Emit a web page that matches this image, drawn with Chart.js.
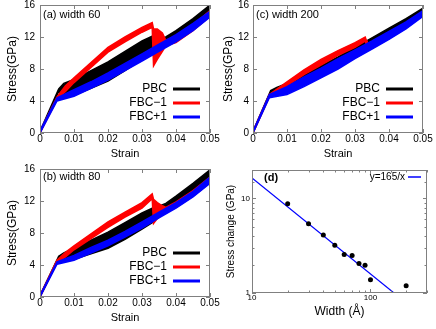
<!DOCTYPE html>
<html>
<head>
<meta charset="utf-8">
<script src="https://cdn.jsdelivr.net/npm/chart.js@4.4.0/dist/chart.umd.min.js"></script>
<style>
html, body { margin: 0; padding: 0; background: #fff; }
#wrap { position: relative; width: 436px; height: 329px; }
canvas { position: absolute; left: 0; top: 0; }
</style>
</head>
<body>
<div id="wrap">
  <canvas id="panelA" width="436" height="329"></canvas>
  <canvas id="panelB" width="436" height="329"></canvas>
  <canvas id="panelC" width="436" height="329"></canvas>
  <canvas id="panelD" width="436" height="329"></canvas>
</div>
<script>
// ---- data ----
var seriesNames = ["PBC", "FBC\u22121", "FBC+1"];
var strainStep = 0.01;
var stressStep = 4;

// (a) width 60
var aBlackX  = [0, 0.0055, 0.007, 0.01, 0.015, 0.02, 0.025, 0.03, 0.033, 0.034, 0.037, 0.04, 0.045, 0.05];
var aBlackHi = [0.2, 5.5, 6.2, 6.7, 7.8, 8.9, 10.2, 11.5, 12.1, 11.6, 12.0, 12.8, 14.3, 16.0];
var aBlackLo = [0, 5.2, 4.4, 4.7, 5.6, 6.5, 7.8, 9.2, 10.0, 10.6, 11.2, 12.0, 13.5, 15.2];
var aRedX    = [0, 0.005, 0.0075, 0.01, 0.015, 0.02, 0.025, 0.03, 0.033, 0.0334, 0.0345, 0.036, 0.037, 0.04, 0.045, 0.05];
var aRedHi   = [0.2, 4.5, 5.9, 6.9, 8.8, 10.7, 12.0, 13.2, 13.8, 13.0, 13.0, 12.5, 11.6, 12.1, 13.5, 15.3];
var aRedLo   = [0, 4.2, 5.2, 6.3, 8.2, 10.1, 11.4, 12.6, 13.2, 8.4, 9.2, 10.2, 10.9, 11.3, 12.8, 14.6];
var aBlueX   = [0, 0.005, 0.01, 0.015, 0.02, 0.025, 0.03, 0.035, 0.04, 0.045, 0.05];
var aBlueHi  = [0.3, 4.4, 5.4, 6.4, 7.5, 8.7, 9.9, 11.1, 12.3, 13.7, 15.2];
var aBlueLo  = [0, 4.0, 4.6, 5.6, 6.6, 7.8, 9.0, 10.2, 11.4, 12.8, 14.5];

// (b) width 80
var bBlackX  = [0, 0.0055, 0.007, 0.01, 0.015, 0.02, 0.025, 0.03, 0.033, 0.034, 0.037, 0.04, 0.045, 0.05];
var bBlackHi = [0.2, 5.1, 5.5, 6.1, 7.1, 8.1, 9.3, 10.5, 11.1, 11.2, 11.7, 12.6, 14.2, 15.9];
var bBlackLo = [0, 4.8, 4.4, 4.7, 5.4, 6.1, 7.2, 8.5, 9.3, 10.0, 10.8, 11.7, 13.2, 14.9];
var bRedX    = [0, 0.005, 0.0075, 0.01, 0.015, 0.02, 0.025, 0.03, 0.033, 0.0334, 0.0345, 0.036, 0.037, 0.04, 0.045, 0.05];
var bRedHi   = [0.2, 4.6, 5.6, 6.4, 7.9, 9.4, 10.6, 11.8, 12.9, 12.2, 11.8, 11.4, 11.2, 11.9, 13.3, 15.0];
var bRedLo   = [0, 4.3, 5.0, 5.9, 7.3, 8.7, 10.0, 11.1, 12.3, 9.2, 9.8, 10.3, 10.6, 11.2, 12.6, 14.3];
var bBlueX   = [0, 0.005, 0.01, 0.015, 0.02, 0.025, 0.03, 0.035, 0.04, 0.045, 0.05];
var bBlueHi  = [0.2, 4.4, 5.2, 6.2, 7.1, 8.2, 9.4, 10.6, 11.8, 13.2, 15.0];
var bBlueLo  = [0, 4.1, 4.6, 5.5, 6.4, 7.5, 8.6, 9.9, 11.1, 12.5, 14.2];

// (c) width 200
var cBlackX  = [0, 0.0052, 0.007, 0.01, 0.015, 0.02, 0.025, 0.03, 0.035, 0.04, 0.045, 0.05];
var cBlackHi = [0.2, 5.3, 5.7, 6.2, 7.2, 8.4, 9.5, 10.7, 11.9, 13.1, 14.3, 15.6];
var cBlackLo = [0, 5.0, 4.8, 5.0, 6.0, 7.0, 8.2, 9.4, 10.6, 11.8, 13.2, 14.7];
var cRedX    = [0, 0.0048, 0.01, 0.015, 0.02, 0.025, 0.03, 0.033, 0.0334, 0.0338];
var cRedHi   = [0.2, 4.8, 6.4, 7.9, 9.2, 10.3, 11.3, 12.0, 11.5, 11.5];
var cRedLo   = [0, 4.5, 5.9, 7.3, 8.5, 9.7, 10.7, 11.5, 11.0, 11.1];
var cBlueX   = [0, 0.0048, 0.01, 0.015, 0.02, 0.025, 0.03, 0.035, 0.04, 0.045, 0.05];
var cBlueHi  = [0.2, 4.8, 5.8, 7.0, 8.1, 9.3, 10.4, 11.5, 12.7, 13.9, 15.3];
var cBlueLo  = [0, 4.4, 4.8, 5.8, 6.9, 8.0, 9.3, 10.5, 11.7, 13.0, 14.6];

// (d) stress change vs width
var widths       = [20, 30, 40, 50, 60, 70, 80, 90, 100, 200];
var stressChange = [8.8, 5.4, 4.1, 3.2, 2.55, 2.5, 2.05, 1.97, 1.38, 1.19];
var fitX = [10, 158];
var fitY = [16.5, 1.0];

// ---- helpers ----
var FONT_N = "'Liberation Sans Narrow', 'Liberation Sans', Arial, sans-serif";
var FONT_R = "'Liberation Sans', Arial, sans-serif";
var W = 436, H = 329;
var RED = "#ff0000", BLUE = "#0000ff", BLACK = "#000000";

function pts(xs, ys) {
	return xs.map(function (x, i) { return { x: x, y: ys[i] }; });
}

function band(xs, hi, lo, color) {
	var common = { borderColor: color, backgroundColor: color, borderWidth: 1.5, pointRadius: 0, showLine: true, tension: 0 };
	return [
		Object.assign({ data: pts(xs, hi), fill: false }, common),
		Object.assign({ data: pts(xs, lo), fill: "-1" }, common)
	];
}

function zeroPad(s) {
	s.paddingTop = 0; s.paddingBottom = 0; s.paddingLeft = 0; s.paddingRight = 0;
}

// inward tick marks on all four sides + grey frame, gnuplot style
function frameTicks(minorLen) {
	return {
		id: "frameTicks",
		afterDatasetsDraw: function (chart) {
			var ctx = chart.ctx, a = chart.chartArea;
			var xs = chart.scales.x, ys = chart.scales.y;
			ctx.save();
			ctx.strokeStyle = "#808080";
			ctx.lineWidth = 1;
			ctx.beginPath();
			xs.ticks.forEach(function (t) {
				var px = Math.round(xs.getPixelForValue(t.value)) + 0.5;
				var len = t.label === "" ? minorLen : 4;
				ctx.moveTo(px, a.bottom); ctx.lineTo(px, a.bottom - len);
				ctx.moveTo(px, a.top); ctx.lineTo(px, a.top + len);
			});
			ys.ticks.forEach(function (t) {
				var py = Math.round(ys.getPixelForValue(t.value)) + 0.5;
				var len = t.label === "" ? minorLen : 4;
				ctx.moveTo(a.left, py); ctx.lineTo(a.left + len, py);
				ctx.moveTo(a.right, py); ctx.lineTo(a.right - len, py);
			});
			ctx.stroke();
			ctx.strokeRect(a.left + 0.5, a.top + 0.5, a.right - a.left - 1, a.bottom - a.top - 1);
			ctx.restore();
		}
	};
}

// panel label and legend entries
function notes(texts, keys) {
	return {
		id: "notes",
		afterDraw: function (chart) {
			var ctx = chart.ctx;
			ctx.save();
			ctx.textBaseline = "middle";
			texts.forEach(function (t) {
				ctx.font = t.font;
				ctx.fillStyle = "#000";
				ctx.textAlign = t.align || "left";
				ctx.fillText(t.text, t.x, t.y);
			});
			keys.forEach(function (k) {
				ctx.strokeStyle = k.color;
				ctx.lineWidth = k.width;
				ctx.beginPath();
				ctx.moveTo(k.x1, k.y);
				ctx.lineTo(k.x2, k.y);
				ctx.stroke();
			});
			ctx.restore();
		}
	};
}

function strainPanel(id, box, label, blue, red, black) {
	var datasets = [].concat(band(blue[0], blue[1], blue[2], BLUE), band(red[0], red[1], red[2], RED), band(black[0], black[1], black[2], BLACK));
	var colors = [BLACK, RED, BLUE];
	var lx = box.r - 37, texts = [{ text: label, x: box.l + 3, y: box.t + box.labDy, font: "11px " + FONT_N }];
	var keys = [];
	seriesNames.forEach(function (n, i) {
		var y = box.t + 84 + i * 14;
		texts.push({ text: n, x: lx - 6, y: y, font: "12px " + FONT_N, align: "right" });
		keys.push({ x1: lx, x2: lx + 27, y: y, color: colors[i], width: 3 });
	});
	new Chart(document.getElementById(id), {
		type: "scatter",
		data: { datasets: datasets },
		options: {
			responsive: false,
			animation: false,
			events: [],
			layout: { padding: { left: box.l - box.yw, top: box.t, right: W - box.r, bottom: H - box.b - 28 } },
			plugins: { legend: { display: false }, tooltip: { enabled: false } },
			scales: {
				x: {
					type: "linear", min: 0, max: 0.05,
					ticks: {
						stepSize: strainStep, padding: 0, color: "#000", autoSkip: false, maxRotation: 0,
						font: { family: FONT_N, size: 10, weight: "normal" },
						callback: function (v) { return v === 0 ? "0" : v.toFixed(2); }
					},
					grid: { display: false, drawTicks: false },
					border: { display: false },
					title: { display: true, text: "Strain", color: "#000", font: { family: FONT_N, size: 11, weight: "normal" }, padding: { top: 0, bottom: 0 } },
					afterFit: function (s) { s.height = 28; zeroPad(s); }
				},
				y: {
					type: "linear", min: 0, max: 16,
					ticks: { stepSize: stressStep, padding: box.tickPad, color: "#000", font: { family: FONT_N, size: 10, weight: "normal" } },
					grid: { display: false, drawTicks: false },
					border: { display: false },
					title: { display: true, text: "Stress(GPa)", color: "#000", font: { family: FONT_R, size: 12, weight: "normal" }, padding: { top: box.titlePad, bottom: 0 } },
					afterFit: function (s) { s.width = box.yw; zeroPad(s); }
				}
			}
		},
		plugins: [frameTicks(4), notes(texts, keys)]
	});
}

strainPanel("panelA", { l: 40, t: 5, r: 210, b: 133, yw: 40, tickPad: 5, titlePad: 5, labDy: 10 }, "(a) width 60",
	[aBlueX, aBlueHi, aBlueLo], [aRedX, aRedHi, aRedLo], [aBlackX, aBlackHi, aBlackLo]);
strainPanel("panelB", { l: 40, t: 169, r: 210, b: 297, yw: 40, tickPad: 5, titlePad: 5, labDy: 8 }, "(b) width 80",
	[bBlueX, bBlueHi, bBlueLo], [bRedX, bRedHi, bRedLo], [bBlackX, bBlackHi, bBlackLo]);
strainPanel("panelC", { l: 253, t: 5, r: 423, b: 133, yw: 35, tickPad: 4, titlePad: 3, labDy: 10 }, "(c) width 200",
	[cBlueX, cBlueHi, cBlueLo], [cRedX, cRedHi, cRedLo], [cBlackX, cBlackHi, cBlackLo]);

// (d) log-log panel
new Chart(document.getElementById("panelD"), {
	type: "scatter",
	data: {
		datasets: [
			{ data: pts(widths, stressChange), backgroundColor: BLACK, borderColor: BLACK, pointRadius: 2.5, borderWidth: 0 },
			{ data: pts(fitX, fitY), borderColor: BLUE, borderWidth: 1.2, pointRadius: 0, showLine: true }
		]
	},
	options: {
		responsive: false,
		animation: false,
		events: [],
		layout: { padding: { left: 218, top: 170, right: W - 427, bottom: H - 293 - 26 } },
		plugins: { legend: { display: false }, tooltip: { enabled: false } },
		scales: {
			x: {
				type: "logarithmic", min: 10, max: 300,
				ticks: {
					padding: 0, color: "#000", autoSkip: false, maxRotation: 0,
					font: { family: FONT_N, size: 8, weight: "normal" },
					callback: function (v) { return (v === 10 || v === 100) ? String(v) : ""; }
				},
				grid: { display: false, drawTicks: false },
				border: { display: false },
				title: { display: true, text: "Width (\u00c5)", color: "#000", font: { family: FONT_N, size: 12, weight: "normal" }, padding: { top: 0, bottom: 0 } },
				afterFit: function (s) { s.height = 26; zeroPad(s); }
			},
			y: {
				type: "logarithmic", min: 1, max: 20,
				ticks: {
					padding: 2, color: "#000", autoSkip: false,
					font: { family: FONT_N, size: 8, weight: "normal" },
					callback: function (v) { return (v === 1 || v === 10) ? String(v) : ""; }
				},
				grid: { display: false, drawTicks: false },
				border: { display: false },
				title: { display: true, text: "Stress change (GPa)", color: "#000", font: { family: FONT_R, size: 10, weight: "normal" }, padding: { top: 7, bottom: 0 } },
				afterFit: function (s) { s.width = 34; zeroPad(s); }
			}
		}
	},
	plugins: [
		frameTicks(2.5),
		notes(
			[{ text: "(d)", x: 264, y: 178, font: "bold 11px " + FONT_N },
			 { text: "y=165/x", x: 405, y: 177, font: "10px " + FONT_N, align: "right" }],
			[{ x1: 408, x2: 421, y: 177, color: BLUE, width: 1.5 }]
		)
	]
});
</script>
</body>
</html>
